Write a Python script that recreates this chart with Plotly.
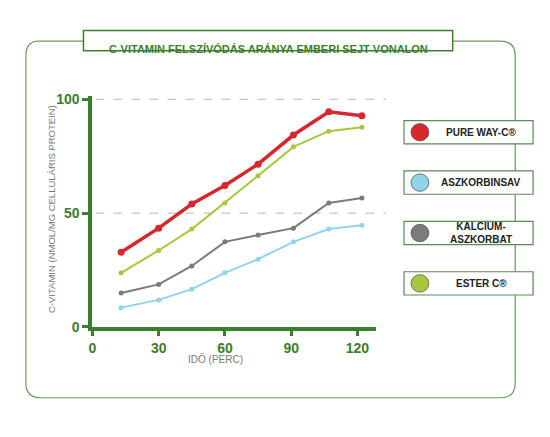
import plotly.graph_objects as go

time_min = [13, 30, 45, 60, 75, 91, 107, 122]
pure_way = [32.8, 43.4, 54.0, 62.1, 71.5, 84.3, 94.5, 92.8]
aszkorbinsav = [8.5, 11.9, 16.6, 23.8, 29.8, 37.4, 43.0, 44.7]
kalcium = [14.9, 18.7, 26.8, 37.4, 40.4, 43.4, 54.5, 56.6]
ester_c = [23.8, 33.6, 43.0, 54.5, 66.4, 79.1, 86.0, 87.7]

series = [
    ("PURE WAY-C®", pure_way, "#d8262d", 3.5, 7),
    ("ASZKORBINSAV", aszkorbinsav, "#90d4ec", 2, 5),
    ("KALCIUM-<br>ASZKORBAT", kalcium, "#7b7b7b", 2, 5),
    ("ESTER C®", ester_c, "#a6c83c", 2, 5),
]
green = "#3b7f2e"
OFF = 8  # page body margin
W, H = 550 - 2 * OFF, 437 - 2 * OFF

fig = go.Figure()
# draw order: ester, kalcium, aszkorbinsav, pure way on top
for name, ys, col, lw, ms in [series[3], series[2], series[1], series[0]]:
    fig.add_trace(go.Scatter(x=time_min, y=ys, mode="lines+markers", name=name,
                             line=dict(color=col, width=lw), marker=dict(color=col, size=ms),
                             showlegend=False))

def px(x): return (x - OFF) / W
def py(y): return 1 - (y - OFF) / H

shapes = []
# outer frame
shapes.append(dict(type="path", xref="paper", yref="paper",
                   path=f"M {px(35)},{py(37)} L {px(500)},{py(37)} Q {px(515)},{py(37)} {px(515)},{py(52)} "
                        f"L {px(515)},{py(390)} Q {px(515)},{py(405)} {px(500)},{py(405)} L {px(37)},{py(405)} "
                        f"Q {px(22)},{py(405)} {px(22)},{py(390)} L {px(22)},{py(52)} Q {px(22)},{py(37)} {px(35)},{py(37)} Z",
                   line=dict(color="#6a9a5c", width=1.2)))
# title box
shapes.append(dict(type="rect", xref="paper", yref="paper", x0=px(80), x1=px(452), y0=py(47), y1=py(26),
                   fillcolor="white", line=dict(color=green, width=1.5)))
# dashed gridlines
for yv in [100, 50]:
    shapes.append(dict(type="line", xref="paper", yref="y", x0=px(92), x1=px(385), y0=yv, y1=yv,
                       line=dict(color="#b8b8b8", width=1, dash="dash"), layer="below"))

annotations = [dict(text="C-VITAMIN FELSZÍVÓDÁS ARÁNYA EMBERI SEJT-VONALON", xref="paper", yref="paper",
                    x=px(266), y=py(36.5), showarrow=False,
                    font=dict(family="Liberation Sans", size=11, color=green, weight="bold"))]

# legend pills
for i, (name, ys, col, lw, ms) in enumerate(series):
    cy = 131 + i * 52
    shapes.append(dict(type="rect", xref="paper", yref="paper", x0=px(403), x1=px(533),
                       y0=py(cy - 12), y1=py(cy + 12), fillcolor="white",
                       line=dict(color="#5a8a55", width=1.2)))
    shapes.append(dict(type="circle", xref="paper", yref="paper", x0=px(410), x1=px(428),
                       y0=py(cy - 9), y1=py(cy + 9), fillcolor=col, line=dict(color="#555", width=0.8)))
    annotations.append(dict(text=name, xref="paper", yref="paper", x=px(481), y=py(cy), showarrow=False,
                            xanchor="center", yanchor="middle",
                            font=dict(family="Liberation Sans", size=10, color="#222", weight="bold")))

annotations.append(dict(text="IDŐ (PERC)", xref="paper", yref="paper", x=px(213), y=py(373), showarrow=False,
                        font=dict(family="Liberation Sans", size=10, color="#7a7a7a")))
annotations.append(dict(text="C-VITAMIN (NMOL/MG CELLULÁRIS PROTEIN)", xref="paper", yref="paper",
                        x=px(41), y=py(210), textangle=-90, showarrow=False,
                        font=dict(family="Liberation Sans", size=9.5, color="#7a7a7a")))

tick_font = dict(family="Liberation Sans", size=14, color=green, weight="bold")
fig.update_layout(
    width=W, height=H, margin=dict(l=0, r=0, t=0, b=0),
    plot_bgcolor="white", paper_bgcolor="white",
    shapes=shapes, annotations=annotations,
    xaxis=dict(domain=[px(89), px(375)], range=[0, 128.5], tickvals=[0, 30, 60, 90, 120],
               showgrid=False, zeroline=False, showline=True, linecolor=green, linewidth=4,
               ticks="outside", ticklen=5, tickwidth=3, tickcolor=green, tickfont=tick_font),
    yaxis=dict(domain=[py(332), py(93.5)], range=[0, 101.5], tickvals=[0, 50, 100],
               showgrid=False, zeroline=False, showline=True, linecolor=green, linewidth=4,
               ticks="outside", ticklen=6, tickwidth=3, tickcolor=green, tickfont=tick_font),
)

fig.write_html("out.html")
